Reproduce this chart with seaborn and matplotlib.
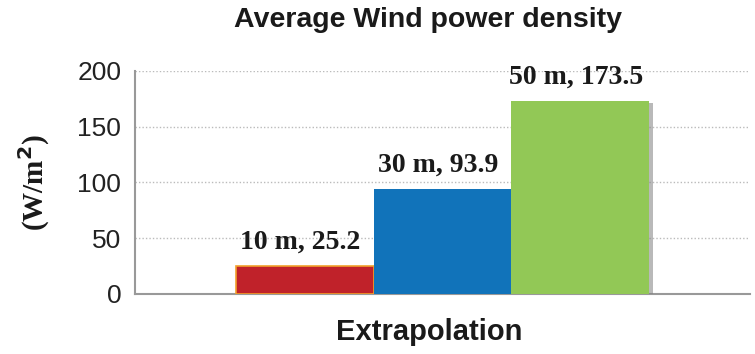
import pandas as pd
import seaborn as sns
import matplotlib.pyplot as plt
import matplotlib.patheffects as pe

sns.set_theme(style="white")
plt.rcParams["font.family"] = ["Liberation Sans", "DejaVu Sans"]

heights = ["10 m", "30 m", "50 m"]
density = [25.2, 93.9, 173.5]
colors = ["#C0222A", "#1173BA", "#92C856"]
yticks = [0, 50, 100, 150, 200]

df = pd.DataFrame({"height": heights, "density": density})

fig = plt.figure(figsize=(7.55, 3.54), dpi=100)
ax = fig.add_axes([0.179, 0.1695, 0.814, 0.630])

sns.barplot(data=df, x="height", y="density", hue="height", palette=colors,
            saturation=1, width=1.0, dodge=False, legend=False, ax=ax, zorder=3)

shadow = [pe.SimplePatchShadow(offset=(2.5, -2), shadow_rgbFace="#808080", alpha=0.55), pe.Normal()]
for i, p in enumerate(ax.patches):
    p.set_path_effects(shadow)
    if i == 0:
        p.set_edgecolor("#F2A12C")
        p.set_linewidth(1.2)
    else:
        p.set_linewidth(0)
    ax.text(p.get_x() + p.get_width() / 2 - 0.03, p.get_height() + 10,
            f"{heights[i]}, {p.get_height():.1f}",
            ha="center", va="bottom", fontsize=20, fontweight="bold",
            family="Liberation Serif", color="#1a1a1a", clip_on=False, zorder=5)

ax.set_xlim(-1.23, 3.23)
ax.set_ylim(0, 200)
ax.set_yticks(yticks)
ax.set_yticklabels([str(t) for t in yticks], fontsize=19, color="#222222")
ax.tick_params(axis="y", length=0, pad=10)
ax.set_xticks([])
ax.set_xlabel("")
ax.set_ylabel("")
ax.yaxis.grid(True, linestyle=(0, (1, 1.5)), color="#bbbbbb", linewidth=1, zorder=0)
ax.set_axisbelow(True)

for s in ["top", "right"]:
    ax.spines[s].set_visible(False)
for s in ["left", "bottom"]:
    ax.spines[s].set_color("#999999")
    ax.spines[s].set_linewidth(1.5)

fig.text(0.567, 0.944, "Average Wind power density", ha="center", va="center",
         fontsize=20.5, fontweight="bold", color="#1a1a1a")
fig.text(0.568, 0.062, "Extrapolation", ha="center", va="center",
         fontsize=21, fontweight="bold", color="#1a1a1a")
fig.text(0.045, 0.485, "(W/m$^\\mathbf{2}$)", ha="center", va="center", rotation=90,
         fontsize=21, fontweight="bold", family="Liberation Serif", color="#1a1a1a")

fig.savefig("out.png", dpi=100)
